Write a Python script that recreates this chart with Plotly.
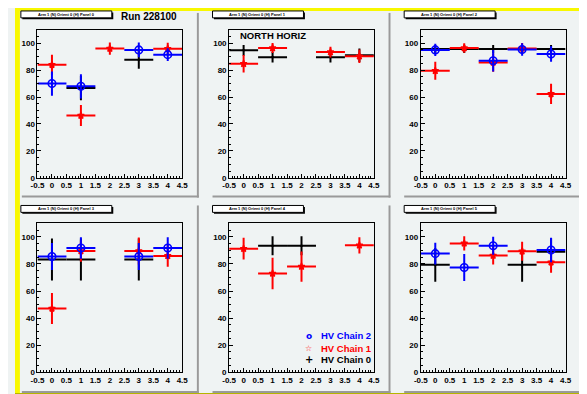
import plotly.graph_objects as go

# ---------------- data ----------------
bins = [0, 1, 2, 3, 4]
bin_half_width = [0.5, 0.5, 0.5, 0.5, 0.5]

x_tick_vals = [-0.5, 0, 0.5, 1, 1.5, 2, 2.5, 3, 3.5, 4, 4.5]
x_tick_text = ["-0.5", "0", "0.5", "1", "1.5", "2", "2.5", "3", "3.5", "4", "4.5"]
y_tick_vals = [0, 20, 40, 60, 80, 100]
y_tick_text = ["0", "20", "40", "60", "80", "100"]

panel_titles = [
    "Arm 1 (N) Orient 0 (H) Panel 0",
    "Arm 1 (N) Orient 0 (H) Panel 1",
    "Arm 1 (N) Orient 0 (H) Panel 2",
    "Arm 1 (N) Orient 0 (H) Panel 3",
    "Arm 1 (N) Orient 0 (H) Panel 4",
    "Arm 1 (N) Orient 0 (H) Panel 5",
]
series_names = ["HV Chain 2", "HV Chain 1", "HV Chain 0"]
run_label = "Run 228100"
panel_label = "NORTH HORIZ"

# HV Chain 2 (blue)
chain2_p0 = [70.0, 68.0, None, 95.0, 91.5]
chain2_p0_err = [9.0, 9.0, 0, 5.5, 4.8]
chain2_p1 = [None, None, None, None, None]
chain2_p1_err = [0, 0, 0, 0, 0]
chain2_p2 = [95.0, None, 87.0, 95.3, 92.0]
chain2_p2_err = [4.6, 0, 8.0, 4.6, 5.8]
chain2_p3 = [85.4, 91.7, None, 85.4, 91.7]
chain2_p3_err = [10.0, 8.0, 0, 10.0, 8.0]
chain2_p4 = [None, None, None, None, None]
chain2_p4_err = [0, 0, 0, 0, 0]
chain2_p5 = [87.6, 77.3, 93.4, None, 90.2]
chain2_p5_err = [8.0, 10.0, 6.6, 0, 9.0]

# HV Chain 1 (red)
chain1_p0 = [84.0, 46.2, 96.0, None, 95.8]
chain1_p0_err = [7.5, 7.8, 4.5, 0, 4.6]
chain1_p1 = [84.7, 96.4, None, 93.4, 90.3]
chain1_p1_err = [6.5, 3.7, 0, 4.0, 5.0]
chain1_p2 = [79.5, 96.4, 85.7, 96.1, 62.3]
chain1_p2_err = [6.7, 3.5, 6.9, 4.0, 7.5]
chain1_p3 = [47.1, 89.5, None, 89.5, 85.9]
chain1_p3_err = [11.5, 8.0, 0, 10.0, 8.0]
chain1_p4 = [91.2, 72.9, 78.0, None, 93.7]
chain1_p4_err = [8.0, 11.7, 11.2, 0, 6.0]
chain1_p5 = [None, 95.1, 86.1, 89.3, 81.2]
chain1_p5_err = [0, 5.3, 6.5, 7.0, 7.7]

# HV Chain 0 (black)
chain0_p0 = [None, 66.7, None, 87.7, None]
chain0_p0_err = [0, 9.0, 0, 6.7, 0]
chain0_p1 = [94.7, 89.6, None, 89.6, 91.0]
chain0_p1_err = [4.0, 4.0, 0, 4.0, 5.0]
chain0_p2 = [95.7, 95.7, 95.7, 95.7, 95.7]
chain0_p2_err = [3.0, 3.0, 3.0, 3.0, 3.0]
chain0_p3 = [83.2, 83.2, None, 83.2, None]
chain0_p3_err = [15.5, 15.5, 0, 15.5, 0]
chain0_p4 = [None, 93.4, 93.4, None, None]
chain0_p4_err = [0, 7.0, 7.0, 0, 0]
chain0_p5 = [79.3, None, None, 79.3, 89.0]
chain0_p5_err = [12.5, 0, 0, 12.5, 10.0]

chain2 = [chain2_p0, chain2_p1, chain2_p2, chain2_p3, chain2_p4, chain2_p5]
chain2_err = [chain2_p0_err, chain2_p1_err, chain2_p2_err, chain2_p3_err, chain2_p4_err, chain2_p5_err]
chain1 = [chain1_p0, chain1_p1, chain1_p2, chain1_p3, chain1_p4, chain1_p5]
chain1_err = [chain1_p0_err, chain1_p1_err, chain1_p2_err, chain1_p3_err, chain1_p4_err, chain1_p5_err]
chain0 = [chain0_p0, chain0_p1, chain0_p2, chain0_p3, chain0_p4, chain0_p5]
chain0_err = [chain0_p0_err, chain0_p1_err, chain0_p2_err, chain0_p3_err, chain0_p4_err, chain0_p5_err]

# ---------------- layout geometry (pixels) ----------------
W, H = 587, 394
FONT = "Liberation Sans, Arial, Helvetica, sans-serif"
PAD_BG = "#eff3f3"
BLUE, RED, BLACK = "#0000ff", "#ff0000", "#000000"

frame_cols = [(23, 171), (219, 367), (415, 563)]
frame_rows = [(22, 172), (218, 369)]
pad_cols = [(5, 188), (200, 384), (396, 582)]
pad_rows = [(3, 192), (198, 390)]
title_cols = [(6, 99), (202, 295), (398, 491)]
title_rows = [(3, 10), (200, 207)]


def fx(p):
    return p / W


def fy(p):
    return 1 - p / H


fig = go.Figure()
shapes = []
annotations = []

# canvas border
shapes.append(dict(type="rect", xref="paper", yref="paper", x0=0, x1=1, y0=fy(H), y1=fy(390),
                   fillcolor="#b5b500", line_width=0, layer="below"))
shapes.append(dict(type="rect", xref="paper", yref="paper", x0=fx(583), x1=1, y0=0, y1=1,
                   fillcolor="#b5b500", line_width=0, layer="below"))
shapes.append(dict(type="rect", xref="paper", yref="paper", x0=0, x1=fx(5), y0=fy(390), y1=1,
                   fillcolor="#f8f800", line_width=0, layer="below"))
shapes.append(dict(type="rect", xref="paper", yref="paper", x0=0, x1=fx(583), y0=fy(3), y1=1,
                   fillcolor="#f8f800", line_width=0, layer="below"))

for r in range(2):
    for c in range(3):
        k = r * 3 + c
        ax = "" if k == 0 else str(k + 1)
        px0, px1 = pad_cols[c]
        py0, py1 = pad_rows[r]
        # pad shadows
        shapes.append(dict(type="rect", xref="paper", yref="paper", x0=fx(px1 - 2), x1=fx(px1),
                           y0=fy(py1), y1=fy(py0 + 2), fillcolor="#9a9a9a", line_width=0, layer="below"))
        shapes.append(dict(type="rect", xref="paper", yref="paper", x0=fx(px0 + 2), x1=fx(px1),
                           y0=fy(py1), y1=fy(py1 - 2), fillcolor="#9a9a9a", line_width=0, layer="below"))
        # title box
        tx0, tx1 = title_cols[c]
        ty0, ty1 = title_rows[r]
        shapes.append(dict(type="rect", xref="paper", yref="paper", x0=fx(tx0 + 1.5), x1=fx(tx1 + 1.5),
                           y0=fy(ty1 + 1.5), y1=fy(ty0 + 1.5), fillcolor=BLACK, line_width=0))
        shapes.append(dict(type="rect", xref="paper", yref="paper", x0=fx(tx0), x1=fx(tx1),
                           y0=fy(ty1), y1=fy(ty0), fillcolor="white", line=dict(color=BLACK, width=1)))
        annotations.append(dict(xref="paper", yref="paper", x=fx((tx0 + tx1) / 2), y=fy((ty0 + ty1) / 2),
                                text=panel_titles[k], showarrow=False, xanchor="center", yanchor="middle",
                                font=dict(family=FONT, size=4, color=BLACK, weight="bold")))

        fx0, fx1 = frame_cols[c]
        fy0, fy1 = frame_rows[r]
        axis_common = dict(showline=True, mirror=True, linecolor=BLACK, linewidth=1,
                           ticks="inside", ticklen=4, tickwidth=1, tickcolor=BLACK,
                           showgrid=False, zeroline=False, tickmode="array",
                           tickfont=dict(family=FONT, size=8, color=BLACK, weight="bold"))
        fig.update_layout(**{
            f"xaxis{ax}": dict(domain=[fx(fx0), fx(fx1)], range=[-0.5, 4.5], anchor=f"y{ax}",
                               tickvals=x_tick_vals, ticktext=x_tick_text,
                               minor=dict(dtick=0.1, tick0=-0.5, ticks="inside", ticklen=2, tickcolor=BLACK),
                               **axis_common),
            f"yaxis{ax}": dict(domain=[fy(fy1), fy(fy0)], range=[0, 110], anchor=f"x{ax}",
                               tickvals=y_tick_vals, ticktext=y_tick_text,
                               minor=dict(dtick=5, tick0=0, ticks="inside", ticklen=2, tickcolor=BLACK),
                               **axis_common),
        })

        for vals, errs, col, sym, size, lw in [
            (chain0[k], chain0_err[k], BLACK, "circle", 2, 1),
            (chain1[k], chain1_err[k], RED, "star-open", 5, 1.5),
            (chain2[k], chain2_err[k], BLUE, "circle-open", 7.5, 1.6),
        ]:
            fig.add_trace(go.Scatter(
                x=bins, y=vals, mode="markers", xaxis=f"x{ax}", yaxis=f"y{ax}", showlegend=False,
                marker=dict(symbol=sym, size=size, color=col, line=dict(color=col, width=lw)),
                error_y=dict(type="data", array=errs, thickness=2, width=0, color=col),
                error_x=dict(type="data", array=bin_half_width, thickness=2, width=0, color=col),
                hoverinfo="skip",
            ))

# panel labels
annotations.append(dict(xref="paper", yref="paper", x=fx(106), y=fy(9), text=run_label, showarrow=False,
                        xanchor="left", yanchor="middle",
                        font=dict(family=FONT, size=10, color=BLACK, weight="bold")))
annotations.append(dict(xref="paper", yref="paper", x=fx(228), y=fy(28), text=panel_label, showarrow=False,
                        xanchor="left", yanchor="middle",
                        font=dict(family=FONT, size=9.5, color=BLACK, weight="bold")))

# legend (in bottom-middle panel)
legend_rows = [332, 345, 356.5]
legend_colors = [BLUE, RED, BLACK]
legend_glyphs = ["o", "☆", "+"]
legend_sizes = [9, 8, 10]
for name, ly, col, g, gs in zip(series_names, legend_rows, legend_colors, legend_glyphs, legend_sizes):
    annotations.append(dict(xref="paper", yref="paper", x=fx(311), y=fy(ly), text=name, showarrow=False,
                            xanchor="left", yanchor="middle",
                            font=dict(family=FONT, size=9.5, color=col, weight="bold")))
    annotations.append(dict(xref="paper", yref="paper", x=fx(300.5), y=fy(ly), text=g, showarrow=False,
                            xanchor="center", yanchor="middle",
                            font=dict(family="DejaVu Sans", size=gs, color=col, weight="bold")))

fig.update_layout(
    width=W, height=H, margin=dict(l=0, r=0, t=0, b=0),
    paper_bgcolor=PAD_BG, plot_bgcolor=PAD_BG,
    shapes=shapes, annotations=annotations, showlegend=False,
)

fig.write_html("out.html")
